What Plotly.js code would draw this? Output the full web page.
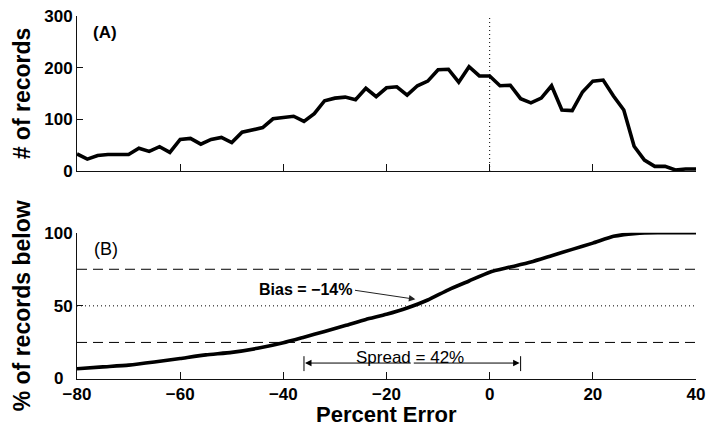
<!DOCTYPE html>
<html>
<head>
<meta charset="utf-8">
<script src="https://cdn.plot.ly/plotly-3.0.1.min.js"></script>
<style>
  html, body { margin: 0; padding: 0; background: #fff; }
  #chart { width: 707px; height: 427px; }
</style>
</head>
<body>
<div id="chart"></div>
<script>
// Percent-error bins (2 % wide) and the number of records in each
const errorBins = [-80, -78, -76, -74, -72, -70, -68, -66, -64, -62,
                   -60, -58, -56, -54, -52, -50, -48, -46, -44, -42,
                   -40, -38, -36, -34, -32, -30, -28, -26, -24, -22,
                   -20, -18, -16, -14, -12, -10, -8, -6, -4, -2,
                   0, 2, 4, 6, 8, 10, 12, 14, 16, 18,
                   20, 22, 24, 26, 28, 30, 32, 34, 36, 38, 40];
const recordCounts = [33, 23, 30, 32, 32, 32, 44, 38, 47, 36,
                      61, 63, 52, 61, 65, 55, 75, 79, 84, 101,
                      103, 106, 96, 111, 136, 141, 143, 138, 160, 144,
                      161, 163, 147, 165, 174, 196, 197, 172, 202, 184,
                      184, 165, 166, 140, 132, 141, 165, 118, 117, 153,
                      174, 176, 145, 118, 48, 21, 9, 9, 2, 4, 4];

// Cumulative share of records below each percent error
const cumErr = [-80, -75, -70, -65, -60, -55, -50, -45, -40, -36,
                -32, -28, -24, -20, -16, -12, -8, -4, 0, 4,
                8, 12, 16, 20, 24, 26, 28, 30, 35, 40];
const cumPct = [7, 8.3, 9.5, 11.6, 14, 16.5, 18.2, 21, 24.8, 28.6,
                32.5, 36.5, 40.7, 44.2, 48.5, 54, 61, 67, 73, 76.5,
                80, 84.3, 88.6, 92.9, 97.5, 98.7, 99.4, 99.8, 100, 100];

// Summary statistics
const quartiles = [25, 75];
const median = 50;
const bias = -14.4;
const spreadLow = -36;
const spreadHigh = 6;

const xTicks = [-80, -60, -40, -20, 0, 20, 40];
const countTicks = [0, 100, 200, 300];
const pctTicks = [0, 50, 100];
// the zero label is drawn separately, a little left, to clear the -80 label
const pctTickText = ['', '50', '100'];

const FONT = 'Liberation Sans, Arial, Helvetica, sans-serif';
const INK = '#000';
const TITLE_FONT = { family: FONT, size: 23, color: INK, weight: 700 };
const TICK_FONT = { family: FONT, size: 17, color: INK, weight: 700 };

const baseX = {
  range: [-80, 40], showgrid: false, zeroline: false,
  showline: true, linecolor: '#111', linewidth: 1,
  ticks: 'inside', ticklen: 7, tickcolor: '#111', tickwidth: 1,
  tickvals: xTicks, fixedrange: true
};
const baseY = {
  showgrid: false, zeroline: false,
  showline: true, linecolor: '#111', linewidth: 1,
  ticks: 'inside', ticklen: 6, tickcolor: '#111', tickwidth: 1,
  tickfont: TICK_FONT,
  fixedrange: true
};

const traces = [
  {
    x: errorBins, y: recordCounts, xaxis: 'x', yaxis: 'y',
    type: 'scatter', mode: 'lines', cliponaxis: false,
    line: { color: INK, width: 3.6 }, hoverinfo: 'skip'
  },
  {
    x: cumErr, y: cumPct, xaxis: 'x2', yaxis: 'y2',
    type: 'scatter', mode: 'lines', cliponaxis: false,
    line: { color: INK, width: 3.6, shape: 'spline', smoothing: 0.5 },
    hoverinfo: 'skip'
  }
];

const shapes = [
  // zero-error reference in the histogram
  { type: 'line', xref: 'x', yref: 'y', x0: 0, x1: 0, y0: 0, y1: 300,
    line: { color: INK, width: 1, dash: '1px,3px' }, layer: 'below' },
  // median line
  { type: 'line', xref: 'x2', yref: 'y2', x0: -80, x1: 40, y0: median, y1: median,
    line: { color: INK, width: 1, dash: '1px,3px' }, layer: 'below' },
  // spread end bars
  { type: 'line', xref: 'x2', yref: 'y2', x0: spreadLow, x1: spreadLow, y0: 5.4, y1: 15.6,
    line: { color: INK, width: 1 } },
  { type: 'line', xref: 'x2', yref: 'y2', x0: spreadHigh, x1: spreadHigh, y0: 5.4, y1: 15.6,
    line: { color: INK, width: 1 } }
];
quartiles.forEach(q => shapes.push({
  type: 'line', xref: 'x2', yref: 'y2', x0: -80, x1: 40, y0: q, y1: q,
  line: { color: INK, width: 1, dash: '10px,6px' }, layer: 'below'
}));

const spreadMid = (spreadLow + spreadHigh) / 2;
const annotations = [
  { xref: 'x', yref: 'y', x: -74.6, y: 268, text: '(A)', showarrow: false,
    font: { family: FONT, size: 17, color: INK, weight: 700 } },
  { xref: 'x2', yref: 'y2', x: -74.4, y: 88.9, text: '(B)', showarrow: false,
    font: { family: FONT, size: 18, color: INK } },
  { xref: 'x2', yref: 'y2', x: -35.8, y: 61, text: 'Bias = \u221214%', showarrow: false,
    font: { family: FONT, size: 16, color: INK, weight: 700 } },
  { xref: 'x2', yref: 'y2', x: bias, y: 54.5, axref: 'x2', ayref: 'y2',
    ax: -26.4, ay: 60.8, text: '', showarrow: true,
    arrowhead: 2, arrowsize: 1.3, arrowwidth: 1, arrowcolor: '#222', standoff: 0 },
  { xref: 'x2', yref: 'y2', x: spreadMid - 0.4, y: 14.8, text: 'Spread = 42%', showarrow: false,
    font: { family: FONT, size: 17, color: INK } },
  { xref: 'x2', yref: 'y2', x: spreadLow, y: 10.9, axref: 'x2', ayref: 'y2',
    ax: spreadMid, ay: 10.9, text: '', showarrow: true,
    arrowhead: 2, arrowsize: 1.3, arrowwidth: 1, arrowcolor: INK, standoff: 1 },
  { xref: 'x2', yref: 'y2', x: spreadHigh, y: 10.9, axref: 'x2', ayref: 'y2',
    ax: spreadMid, ay: 10.9, text: '', showarrow: true,
    arrowhead: 2, arrowsize: 1.3, arrowwidth: 1, arrowcolor: INK, standoff: 1 },
  // zero label of the lower panel's y axis
  { xref: 'x2', yref: 'y2', x: -80, y: pctTicks[0], xanchor: 'right', yanchor: 'middle',
    xshift: -12, yshift: 1, text: String(pctTicks[0]), showarrow: false, font: TICK_FONT },
  // shared x-axis title under the lower panel
  { xref: 'x2', yref: 'paper', x: -20, y: 0, yanchor: 'bottom', yshift: -49,
    text: 'Percent Error', showarrow: false, borderpad: 0,
    font: { family: FONT, size: 22, color: INK, weight: 700 } }
];

const layout = {
  width: 707, height: 427,
  margin: { l: 77, r: 11, t: 16, b: 48, pad: 0 },
  paper_bgcolor: '#fff', plot_bgcolor: '#fff',
  showlegend: false,
  font: { family: FONT, color: INK },
  xaxis: Object.assign({}, baseX, { anchor: 'y', showticklabels: false }),
  yaxis: Object.assign({}, baseY, {
    domain: [0.573, 1], range: [0, 300], tickvals: countTicks, anchor: 'x',
    title: { text: '# of records', font: TITLE_FONT, standoff: 7 }
  }),
  xaxis2: Object.assign({}, baseX, {
    anchor: 'y2',
    tickfont: TICK_FONT
  }),
  yaxis2: Object.assign({}, baseY, {
    domain: [0, 0.403], range: [0, 100], tickvals: pctTicks, ticktext: pctTickText, anchor: 'x2',
    title: { text: '% of records below', font: TITLE_FONT, standoff: 7 }
  }),
  shapes: shapes,
  annotations: annotations
};

Plotly.newPlot('chart', traces, layout, { staticPlot: true, displayModeBar: false });
</script>
</body>
</html>
